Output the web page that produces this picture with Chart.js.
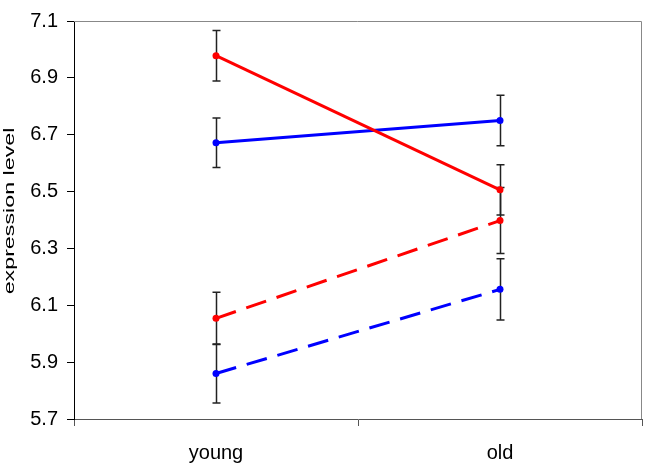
<!DOCTYPE html>
<html>
<head>
<meta charset="utf-8">
<script src="https://cdn.jsdelivr.net/npm/chart.js@4/dist/chart.umd.min.js"></script>
<style>
html,body{margin:0;padding:0;background:#fff;}
#wrap{width:646px;height:464px;position:relative;}
</style>
</head>
<body>
<div id="wrap"><canvas id="c" width="646" height="464"></canvas></div>
<script>
const categories = ['young', 'old'];
const yTickLabels = [5.7, 5.9, 6.1, 6.3, 6.5, 6.7, 6.9, 7.1];
const yTitle = 'expression level';

const redSolid = [6.978, 6.506];
const redSolidErr = [0.089, 0.088];
const blueSolid = [6.672, 6.750];
const blueSolidErr = [0.087, 0.089];
const redDashed = [6.054, 6.398];
const redDashedErr = [0.092, 0.116];
const blueDashed = [5.860, 6.156];
const blueDashedErr = [0.104, 0.108];

const errorBars = {
  id: 'errorBars',
  beforeDatasetsDraw(chart) {
    const ctx = chart.ctx;
    const y = chart.scales.y;
    ctx.save();
    ctx.strokeStyle = '#222';
    ctx.lineWidth = 1.5;
    chart.data.datasets.forEach((ds, di) => {
      const meta = chart.getDatasetMeta(di);
      ds.errors.forEach((e, i) => {
        const px = Math.round(meta.data[i].x) + 0.5;
        const top = y.getPixelForValue(ds.data[i] + e);
        const bot = y.getPixelForValue(ds.data[i] - e);
        ctx.beginPath();
        ctx.moveTo(px, top); ctx.lineTo(px, bot);
        ctx.moveTo(px - 4, top); ctx.lineTo(px + 4, top);
        ctx.moveTo(px - 4, bot); ctx.lineTo(px + 4, bot);
        ctx.stroke();
      });
    });
    ctx.restore();
  }
};

const frame = {
  id: 'frame',
  afterDraw(chart) {
    const a = chart.chartArea, ctx = chart.ctx;
    ctx.save();
    ctx.strokeStyle = '#888';
    ctx.lineWidth = 1;
    ctx.beginPath();
    ctx.moveTo(a.left, a.top + 0.5);
    ctx.lineTo(a.right - 0.5, a.top + 0.5);
    ctx.lineTo(a.right - 0.5, a.bottom);
    ctx.stroke();
    // y-axis title (stretched along its length like the reference)
    const cy = (a.top + a.bottom) / 2 - 9;
    ctx.translate(10, cy);
    ctx.rotate(-Math.PI / 2);
    ctx.scale(1.5, 1);
    ctx.fillStyle = '#000';
    ctx.font = '15.5px "Liberation Sans", Arial, sans-serif';
    ctx.textAlign = 'center';
    ctx.textBaseline = 'middle';
    ctx.fillText(yTitle, 0, 0);
    ctx.restore();
  }
};

function ds(data, errors, color, dashed) {
  return {
    data, errors,
    borderColor: color, backgroundColor: color,
    borderWidth: 3,
    borderDash: dashed ? [21, 11] : [],
    pointRadius: 3.5, pointBorderWidth: 0,
    pointBackgroundColor: color,
    tension: 0, fill: false
  };
}

new Chart(document.getElementById('c'), {
  type: 'line',
  data: {
    labels: categories,
    datasets: [
      ds(redSolid, redSolidErr, '#ff0000', false),
      ds(blueSolid, blueSolidErr, '#0000ff', false),
      ds(redDashed, redDashedErr, '#ff0000', true),
      ds(blueDashed, blueDashedErr, '#0000ff', true)
    ]
  },
  options: {
    responsive: false,
    animation: false,
    devicePixelRatio: 1,
    layout: { padding: { top: 7, right: 1, left: 0, bottom: 0 } },
    plugins: { legend: { display: false }, tooltip: { enabled: false } },
    scales: {
      x: {
        offset: true,
        grid: { offset: true, drawOnChartArea: false, tickLength: 7, color: '#555', lineWidth: 1 },
        border: { display: true, color: '#555', width: 1 },
        ticks: { color: '#000', font: { family: 'Liberation Sans', size: 20 }, padding: 15, maxRotation: 0 },
        afterFit(s) { s.height = 45; }
      },
      y: {
        min: 5.7, max: 7.1,
        afterBuildTicks(s) { s.ticks = yTickLabels.map(v => ({ value: v })); },
        grid: { drawOnChartArea: false, tickLength: 7, color: '#000', lineWidth: 1 },
        border: { display: true, color: '#000', width: 1 },
        ticks: { color: '#000', font: { family: 'Liberation Sans', size: 20 }, padding: 9,
          callback: v => Number(v).toFixed(1) },
        afterFit(s) { s.width = 74; }
      }
    }
  },
  plugins: [errorBars, frame]
});
</script>
</body>
</html>
